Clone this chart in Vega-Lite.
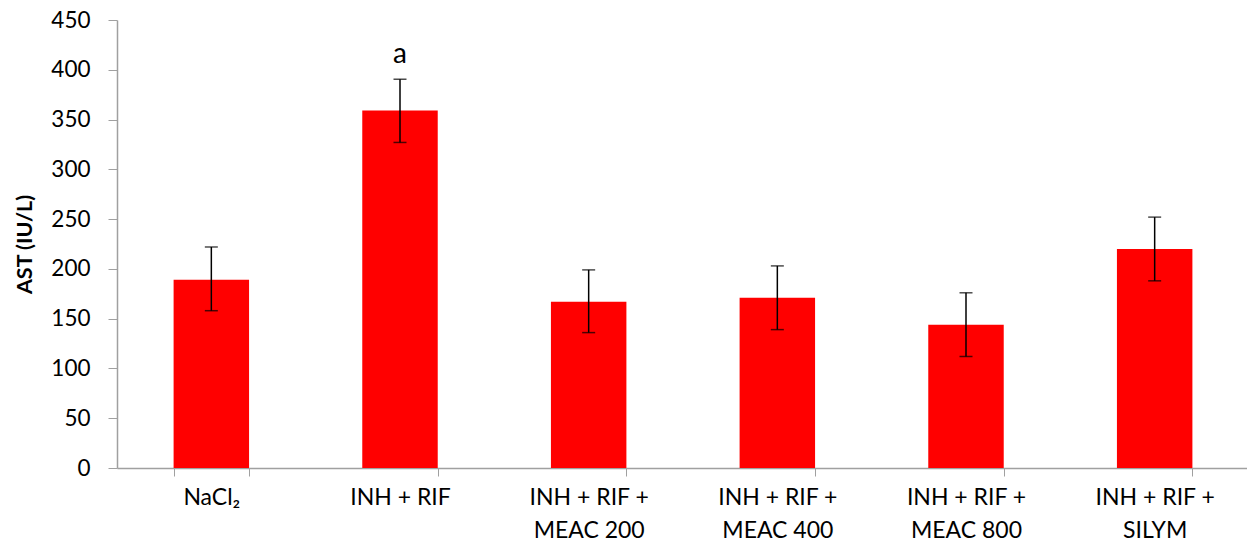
{
  "$schema": "https://vega.github.io/schema/vega-lite/v6.json",
  "width": 1132,
  "height": 448,
  "autosize": {"type": "none"},
  "padding": {"left": 117, "top": 20, "right": 0, "bottom": 78},
  "background": "white",
  "config": {"view": {"stroke": null}, "font": "Lato"},
  "data": {
    "values": [
      {"group": "NaCl₂", "mean": 189, "lo": 158, "hi": 222, "sig": ""},
      {"group": "INH + RIF", "mean": 359, "lo": 327, "hi": 390.5, "sig": "a"},
      {"group": "INH + RIF +|MEAC 200", "mean": 167, "lo": 136, "hi": 199, "sig": ""},
      {"group": "INH + RIF +|MEAC 400", "mean": 171, "lo": 139, "hi": 203, "sig": ""},
      {"group": "INH + RIF +|MEAC 800", "mean": 144, "lo": 112, "hi": 176, "sig": ""},
      {"group": "INH + RIF +|SILYM", "mean": 220, "lo": 188, "hi": 252, "sig": ""}
    ]
  },
  "encoding": {
    "x": {
      "field": "group",
      "type": "nominal",
      "sort": null,
      "scale": {"paddingInner": 0.6, "paddingOuter": 0.3},
      "axis": {
        "title": null,
        "labelAngle": 0,
        "labelExpr": "split(datum.label, '|')",
        "labelFont": "Lato",
        "labelFontSize": 23,
        "labelColor": "black",
        "labelLineHeight": 33,
        "labelPadding": 10,
        "tickBand": "extent",
        "tickSize": 8,
        "tickColor": "#a0a0a0",
        "domainColor": "#a0a0a0",
        "domainWidth": 1.5,
        "grid": false
      }
    }
  },
  "layer": [
    {
      "mark": {"type": "bar", "color": "#ff0000"},
      "encoding": {
        "y": {
          "field": "mean",
          "type": "quantitative",
          "scale": {"domain": [0, 450], "nice": false},
          "axis": {
            "title": "AST (IU/L)",
            "titleFont": "Lato",
            "titleFontSize": 21.5,
            "titleFontWeight": "bold",
            "titleColor": "black",
            "titlePadding": 14,
            "values": [0, 50, 100, 150, 200, 250, 300, 350, 400, 450],
            "labelFont": "Lato",
            "labelFontSize": 22.5,
            "labelColor": "black",
            "labelPadding": 18,
            "tickSize": 9,
            "tickColor": "#a0a0a0",
            "domainColor": "#a0a0a0",
            "domainWidth": 1.5,
            "grid": false
          }
        }
      }
    },
    {
      "mark": {"type": "rule", "color": "black", "strokeWidth": 1.5},
      "encoding": {
        "y": {"field": "lo", "type": "quantitative"},
        "y2": {"field": "hi"}
      }
    },
    {
      "mark": {"type": "tick", "color": "black", "size": 13, "thickness": 1.5, "orient": "horizontal"},
      "encoding": {"y": {"field": "lo", "type": "quantitative"}}
    },
    {
      "mark": {"type": "tick", "color": "black", "size": 13, "thickness": 1.5, "orient": "horizontal"},
      "encoding": {"y": {"field": "hi", "type": "quantitative"}}
    },
    {
      "mark": {"type": "text", "font": "Lato", "fontSize": 28, "color": "black", "baseline": "alphabetic", "dy": -16},
      "encoding": {
        "y": {"field": "hi", "type": "quantitative"},
        "text": {"field": "sig"}
      }
    }
  ]
}
